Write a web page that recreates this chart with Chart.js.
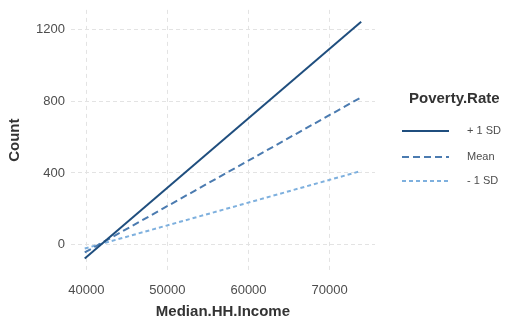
<!DOCTYPE html>
<html>
<head>
<meta charset="utf-8">
<script src="https://cdn.jsdelivr.net/npm/chart.js@4/dist/chart.umd.min.js"></script>
<style>
  body { margin: 0; background: #fff; }
</style>
</head>
<body>
<canvas id="myChart" width="527" height="325"></canvas>
<script>
// predicted Count by Median.HH.Income at three poverty levels
const income = [39800, 73900];
const plusSD = [-78, 1244];
const meanSD = [-44, 822];
const minusSD = [-22, 411];
const seriesNames = ['+ 1 SD', 'Mean', '- 1 SD'];
const xTicks = [40000, 50000, 60000, 70000];
const yTicks = [0, 400, 800, 1200];

const colors = ['#1f4e7e', '#4b7bb0', '#7eb0de'];
const dashes = [[], [7, 4], [4, 3]];
const fontFam = '"Liberation Sans", Arial, sans-serif';

function toPoints(ys) {
    return income.map((x, i) => ({ x: x, y: ys[i] }));
}

const legendPlugin = {
    id: 'sideLegend',
    afterDraw(chart) {
        const c = chart.ctx;
        c.save();
        c.fillStyle = '#333';
        c.font = 'bold 15px ' + fontFam;
        c.textBaseline = 'middle';
        c.fillText('Poverty.Rate', 409, 99);
        const rows = [131, 157, 181];
        chart.data.datasets.forEach((ds, i) => {
            c.beginPath();
            c.strokeStyle = ds.borderColor;
            c.lineWidth = 2;
            c.setLineDash(ds.borderDash);
            c.moveTo(402, rows[i]);
            c.lineTo(449, rows[i]);
            c.stroke();
            c.setLineDash([]);
            c.fillStyle = '#4d4d4d';
            c.font = '11px ' + fontFam;
            c.fillText(ds.label, 467, rows[i]);
        });
        c.restore();
    }
};

const ctx = document.getElementById('myChart');

new Chart(ctx, {
    type: 'line',
    data: {
        datasets: [plusSD, meanSD, minusSD].map((ys, i) => ({
            label: seriesNames[i],
            data: toPoints(ys),
            borderColor: colors[i],
            borderDash: dashes[i],
            borderWidth: 2,
            pointRadius: 0,
            fill: false
        }))
    },
    options: {
        responsive: false,
        animation: false,
        layout: { padding: { left: 2, right: 152, top: 0, bottom: 0 } },
        plugins: {
            legend: { display: false },
            tooltip: { enabled: false }
        },
        scales: {
            x: {
                type: 'linear',
                min: 38095,
                max: 75605,
                afterBuildTicks: (s) => { s.ticks = xTicks.map(v => ({ value: v })); },
                ticks: {
                    color: '#4d4d4d',
                    font: { size: 13, family: fontFam },
                    padding: 12,
                    callback: (v) => String(v)
                },
                grid: { color: '#e3e3e3', lineWidth: 1, drawTicks: false },
                border: { display: false, dash: [4, 4] },
                title: {
                    display: true,
                    text: 'Median.HH.Income',
                    color: '#333',
                    font: { size: 15, weight: 'bold', family: fontFam, lineHeight: 1 },
                    padding: { top: -6, bottom: 6 }
                }
            },
            y: {
                min: -144,
                max: 1310,
                afterBuildTicks: (s) => { s.ticks = yTicks.map(v => ({ value: v })); },
                ticks: {
                    color: '#4d4d4d',
                    font: { size: 13, family: fontFam, lineHeight: 0.6 },
                    padding: 6,
                    callback: (v) => String(v)
                },
                grid: { color: '#e3e3e3', lineWidth: 1, drawTicks: false },
                border: { display: false, dash: [4, 3] },
                title: {
                    display: true,
                    text: 'Count',
                    color: '#333',
                    font: { size: 15, weight: 'bold', family: fontFam },
                    padding: { bottom: 6 }
                }
            }
        }
    },
    plugins: [legendPlugin]
});
</script>
</body>
</html>
